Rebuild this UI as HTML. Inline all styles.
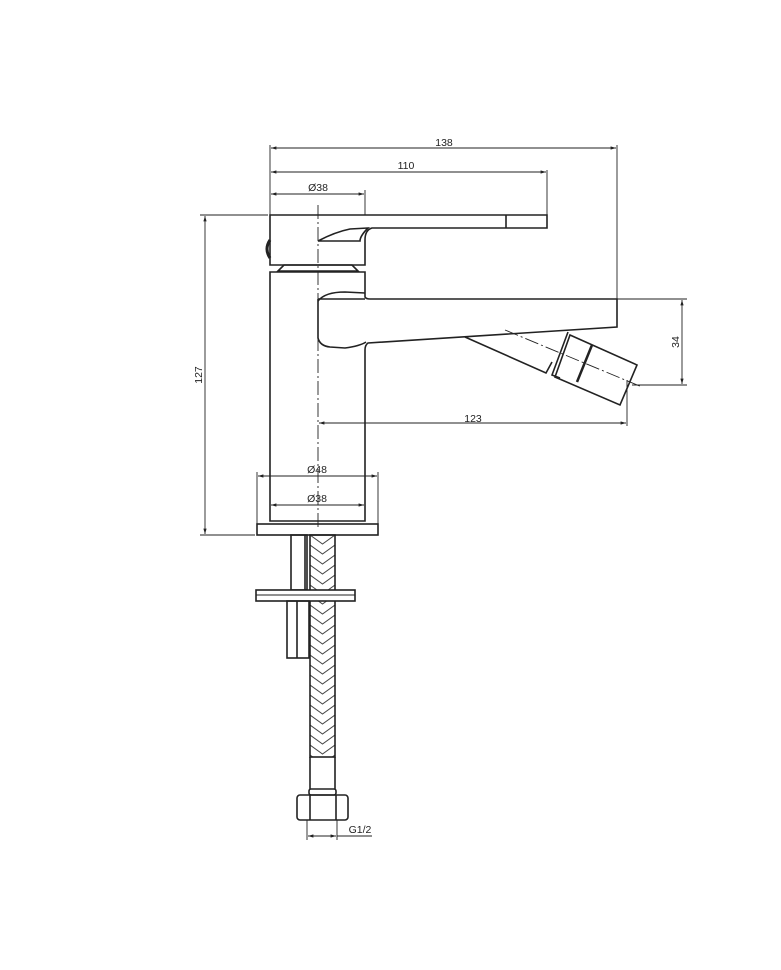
<!DOCTYPE html>
<html><head><style>body{margin:0;background:#fff}svg{display:block}</style></head><body>
<svg width="781" height="970" viewBox="0 0 781 970" xmlns="http://www.w3.org/2000/svg" font-family="Liberation Sans, sans-serif">
<defs>
<marker id="a" viewBox="0 0 10 10" refX="10" refY="5" markerWidth="6" markerHeight="6" orient="auto-start-reverse"><path d="M0,2 L10,5 L0,8z" fill="#222"/></marker>
<pattern id="h" width="25" height="10" patternUnits="userSpaceOnUse" x="310" y="535">
<path d="M0,0 L12.5,9 L25,0 M0,10 L12.5,19 L25,10 M0,-10 L12.5,-1 L25,-10" stroke="#444" stroke-width="1" fill="none"/>
</pattern>
</defs>
<g fill="none" stroke="#222" stroke-width="1.6">
<path d="M270,215 H547 V228 H372 Q365,230 365,240 V265 H270 Z"/>
<line x1="506" y1="215" x2="506" y2="228"/>
<path d="M318,241 Q335,232 350,229 L368,228 Q360,236 360,241 Z" fill="#fff"/>
<path d="M270,240 Q264,249 270,258" stroke-width="3"/>
<path d="M278,271 L284,265 H352 L358,271 Z"/>
<path d="M270,272 H365 V297 Q366,299 370,299 H617 V327 L368,343 Q365,345 365,350 V521 H270 Z"/>
<path d="M318,301 Q325,292 345,292 L365,293"/>
<path d="M318,299 Q318,301 318,303 V338 Q320,346 330,347 L345,348 Q360,346 366,342" />
<line x1="318" y1="299" x2="365" y2="299"/>
<path d="M465,337 L546,373 L552,362"/>
<path d="M568,332 L552,375 L560,378"/>
<path d="M570,335 L637,365 L620,405 L555,377 Z"/>
<line x1="592" y1="345" x2="577" y2="382" stroke-width="2.5"/>
<rect x="257" y="524" width="121" height="11"/>
<rect x="291" y="535" width="16" height="55"/>
<line x1="305" y1="535" x2="305" y2="590"/>
<rect x="310" y="535" width="25" height="222" fill="url(#h)"/>
<rect x="256" y="590" width="99" height="11" fill="#fff"/>
<line x1="256" y1="595" x2="355" y2="595" stroke-width="1"/>
<rect x="287" y="601" width="22" height="57"/>
<line x1="297" y1="601" x2="297" y2="658"/>
<path d="M310,757 V789 M335,757 V789"/>
<rect x="309" y="789" width="27" height="6" rx="2"/>
<rect x="297" y="795" width="51" height="25" rx="3"/>
<path d="M310,795 V820 M336,795 V820"/>
</g>
<g stroke="#222" stroke-width="0.9" fill="none">
<line x1="318" y1="205" x2="318" y2="530" stroke-dasharray="14,3,2,3"/>
<line x1="505" y1="330" x2="642" y2="387" stroke-dasharray="14,3,2,3"/>
<line x1="270" y1="145" x2="270" y2="215"/><line x1="617" y1="145" x2="617" y2="299"/>
<line x1="547" y1="170" x2="547" y2="215"/><line x1="365" y1="190" x2="365" y2="215"/>
<line x1="271" y1="148" x2="616" y2="148" marker-start="url(#a)" marker-end="url(#a)"/>
<line x1="271" y1="172" x2="546" y2="172" marker-start="url(#a)" marker-end="url(#a)"/>
<line x1="271" y1="194" x2="364" y2="194" marker-start="url(#a)" marker-end="url(#a)"/>
<line x1="200" y1="215" x2="268" y2="215"/><line x1="200" y1="535" x2="255" y2="535"/>
<line x1="205" y1="216" x2="205" y2="534" marker-start="url(#a)" marker-end="url(#a)"/>
<line x1="617" y1="299" x2="687" y2="299"/><line x1="632" y1="385" x2="687" y2="385"/>
<line x1="682" y1="300" x2="682" y2="384" marker-start="url(#a)" marker-end="url(#a)"/>
<line x1="627" y1="380" x2="627" y2="426"/>
<line x1="319" y1="423" x2="626" y2="423" marker-start="url(#a)" marker-end="url(#a)"/>
<line x1="257" y1="472" x2="257" y2="524"/><line x1="378" y1="472" x2="378" y2="524"/>
<line x1="258" y1="476" x2="377" y2="476" marker-start="url(#a)" marker-end="url(#a)"/>
<line x1="271" y1="505" x2="364" y2="505" marker-start="url(#a)" marker-end="url(#a)"/>
<line x1="307" y1="820" x2="307" y2="840"/><line x1="337" y1="820" x2="337" y2="840"/>
<line x1="308" y1="836" x2="336" y2="836" marker-start="url(#a)" marker-end="url(#a)"/>
<line x1="337" y1="836" x2="372" y2="836"/>
</g>
<g font-size="10.5" fill="#222" text-anchor="middle">
<text x="444" y="146">138</text>
<text x="406" y="169">110</text>
<text x="318" y="191">Ø38</text>
<text x="473" y="422">123</text>
<text x="317" y="473">Ø48</text>
<text x="317" y="502">Ø38</text>
<text x="360" y="833">G1/2</text>
<text transform="translate(679,342) rotate(-90)">34</text>
<text transform="translate(202,375) rotate(-90)">127</text>
</g>
</svg>
</body></html>
